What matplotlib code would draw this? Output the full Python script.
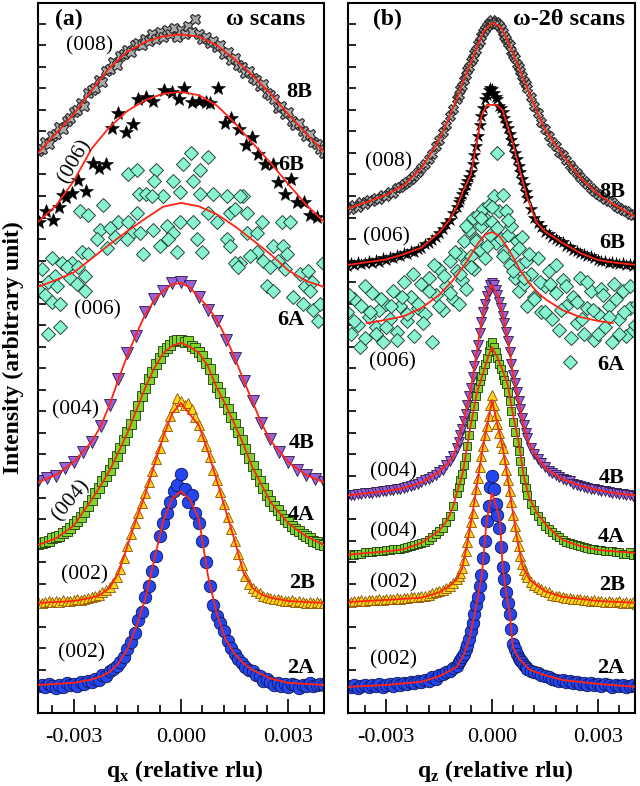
import numpy as np
import matplotlib
matplotlib.use("Agg")
import matplotlib.pyplot as plt
from matplotlib.ticker import FixedLocator, MultipleLocator, FormatStrFormatter

plt.rcParams['font.family'] = ['Liberation Serif', 'DejaVu Serif']
plt.rcParams['mathtext.fontset'] = 'custom'
plt.rcParams['mathtext.rm'] = 'Liberation Serif'
plt.rcParams['mathtext.bf'] = 'Liberation Serif:bold'
plt.rcParams['axes.unicode_minus'] = False

# q in units of 1e-3 rlu, intensity in arbitrary (offset) units

# ---------------- panel (a): omega scans ----------------
qa = np.linspace(-4.0, 4.0, 81)
qa_coarse = np.linspace(-4.0, 4.0, 33)

a_8B = [26.1, 26.2, 26.5, 26.4, 26.8, 26.9, 27.2, 27.1, 27.5, 27.6,
        27.9, 28.0, 28.3, 28.2, 28.8, 28.9, 29.0, 29.4, 29.3, 29.8,
        29.9, 30.2, 30.1, 30.5, 30.6, 30.8, 30.7, 31.0, 31.1, 31.0,
        31.3, 31.2, 31.5, 31.3, 31.6, 31.4, 31.7, 31.5, 31.8, 31.4,
        31.7,
        31.5, 31.9, 31.6, 32.2, 31.5, 31.3, 31.4, 31.1, 31.2, 30.9,
        31.0, 30.6, 30.7, 30.3, 30.4, 30.1, 30.0, 29.7, 29.8, 29.5,
        29.4, 29.1, 29.2, 28.8, 28.7, 28.5, 28.1, 28.2, 27.8, 27.9,
        27.5, 27.3, 27.4, 27.0, 26.8, 26.9, 26.5, 26.4, 26.2, 26.0]

a_6B_q = [-3.96, -3.78, -3.59, -3.42, -3.31, -3.22, -3.06, -2.89, -2.66, -2.47,
          -2.3, -2.1, -1.94, -1.77, -1.55, -1.35, -1.21, -0.99, -0.79, -0.48,
          -0.26, -0.06, 0.08, 0.3, 0.49, 0.69, 0.8, 1.03, 1.22, 1.39,
          1.61, 1.81, 1.98, 2.14, 2.34, 2.56, 2.7, 2.9, 3.09, 3.24,
          3.43, 3.6, 3.79]
a_6B = [22.8, 23.3, 22.9, 23.5, 24.05, 23.96, 24.14, 24.74, 24.23, 25.53,
        25.3, 25.49, 27.16, 27.86, 26.97, 27.35, 28.5, 28.6, 28.41, 28.92,
        28.83, 28.5, 29.02, 28.37, 28.41, 28.37, 28.32, 29.02, 27.39, 27.62,
        27.11, 26.37, 26.74, 25.95, 25.49, 25.49, 24.65, 24.09, 24.79, 23.72,
        23.72, 23.12, 23.03]

a_6A_q = [-1.49, -1.24, -0.71, -0.76, -0.23, 0.05, 0.27, 0.75, 0.52, 0.33,
          -1.18, -0.99, -0.51, -0.04, 0.89, 1.28, 1.73, -2.83, -2.61, -2.19,
          -1.77, -1.49, -1.24, -0.82, -2.27, -1.99, -1.85, -1.38, -1.15, -0.79,
          -0.4, -0.23, -0.04, 0.33, 0.75, 1.0, 1.36, 1.5, 1.84, 2.26,
          2.82, 3.05, -2.35, -2.07, -1.52, -1.07, -0.6, -0.37, -0.12, 0.44,
          0.58, 1.28, 1.36, 1.84, 2.12, 2.56, 2.84, 2.96, 2.12, 1.64,
          1.92, 2.28, 2.48, 2.7, 2.9, 3.32, 3.54, 3.96, -3.61, -3.33,
          -3.05, -2.78, -2.61, -3.2, -2.89, -3.9, -3.53, -3.11, -2.91, -2.69,
          -3.95, -3.73, -3.48, -3.81, -3.61, -3.39, -3.73, -3.39, 2.4, 2.56,
          3.12, 3.46, 3.65, 3.4, 3.68, 3.88, 3.82, 3.6, 1.5, 1.59,
          0.52, 1.64, -2.69]
a_6A = [25.0, 25.2, 25.2, 24.7, 24.7, 25.5, 26.0, 25.8, 25.2, 24.7,
        24.1, 24.1, 24.0, 24.2, 24.1, 24.0, 24.0, 23.3, 23.1, 23.6,
        22.8, 22.8, 23.2, 24.0, 22.4, 22.5, 22.1, 22.3, 22.3, 22.4,
        22.6, 22.3, 22.8, 22.8, 23.2, 22.8, 23.2, 23.4, 23.2, 22.8,
        22.8, 22.8, 22.0, 21.6, 22.0, 21.3, 21.7, 22.0, 21.4, 22.0,
        21.4, 22.0, 21.7, 22.3, 22.3, 21.7, 21.7, 21.3, 21.4, 20.9,
        21.2, 21.0, 20.7, 21.0, 20.6, 20.4, 20.5, 20.9, 21.1, 20.9,
        20.9, 21.4, 21.3, 20.7, 20.7, 20.6, 20.3, 20.2, 19.9, 19.6,
        19.6, 20.0, 19.8, 19.4, 19.1, 19.0, 17.6, 17.9, 19.8, 19.6,
        19.3, 19.8, 20.0, 19.0, 18.7, 19.0, 18.2, 19.6, 20.9, 20.7,
        24.1, 24.0, 20.3]

a_4B = [10.75, 10.9, 11.0, 11.35, 11.65, 12.1, 12.6, 13.3, 14.3, 15.5,
        16.7, 17.5, 18.6, 19.2, 19.6, 19.95, 20.0, 19.8, 19.3, 18.7,
        18.2, 17.3, 16.5, 15.4, 14.5, 13.45, 12.7, 12.1, 11.65, 11.3,
        11.05, 10.85, 10.7]

a_4A = [7.85, 7.9, 7.95, 8.0, 8.1, 8.15, 8.2, 8.35, 8.45, 8.6,
        8.75, 8.9, 9.1, 9.35, 9.6, 9.9, 10.2, 10.45, 10.75, 11.0,
        11.3, 11.6, 11.95, 12.3, 12.65, 13.05, 13.4, 13.85, 14.25, 14.7,
        15.1, 15.5, 15.85, 16.2, 16.5, 16.8, 16.95, 17.1, 17.25, 17.3,
        17.3,
        17.2, 17.25, 17.05, 16.95, 16.75, 16.55, 16.25, 15.95, 15.5, 15.15,
        14.85, 14.45, 14.1, 13.75, 13.4, 13.05, 12.65, 12.25, 11.85, 11.45,
        11.1, 10.75, 10.45, 10.1, 9.85, 9.6, 9.4, 9.2, 9.0, 8.85,
        8.7, 8.55, 8.45, 8.3, 8.2, 8.1, 8.0, 7.95, 7.85, 7.8]

a_2B = [5.15, 5.1, 5.15, 5.2, 5.15, 5.2, 5.15, 5.25, 5.2, 5.2,
        5.25, 5.3, 5.25, 5.3, 5.35, 5.4, 5.45, 5.5, 5.6, 5.7,
        5.85, 6.05, 6.3, 6.7, 7.2, 7.75, 8.3, 8.8, 9.3, 9.75,
        10.2, 10.7, 11.25, 11.8, 12.3, 12.85, 13.3, 13.8, 14.2, 14.6,
        14.5,
        14.3, 14.4, 14.1, 13.75, 13.35, 12.85, 12.4, 11.9, 11.3, 10.8,
        10.25, 9.7, 9.1, 8.55, 8.0, 7.4, 6.85, 6.35, 6.0, 5.8,
        5.65, 5.55, 5.45, 5.4, 5.35, 5.3, 5.3, 5.25, 5.2, 5.2,
        5.25, 5.15, 5.2, 5.15, 5.1, 5.15, 5.1, 5.15, 5.1, 5.1]

a_2A = [1.25, 1.3, 1.2, 1.35, 1.25, 1.15, 1.3, 1.2, 1.4, 1.3,
        1.35, 1.25, 1.45, 1.35, 1.5, 1.45, 1.6, 1.55, 1.75, 1.7,
        1.95, 2.05, 2.2, 2.35, 2.6, 2.95, 3.3, 3.7, 4.3, 4.7,
        5.4, 5.9, 6.6, 7.3, 8.2, 8.8, 9.3, 9.8, 10.3, 10.6,
        11.1,
        10.4, 9.8, 10.1, 9.3, 8.8, 8.0, 7.0, 5.9, 5.0, 4.5,
        4.2, 3.8, 3.35, 3.0, 2.75, 2.5, 2.3, 2.15, 2.0, 1.95,
        1.75, 1.7, 1.5, 1.6, 1.45, 1.3, 1.4, 1.25, 1.35, 1.2,
        1.35, 1.3, 1.15, 1.3, 1.25, 1.4, 1.25, 1.3, 1.35, 1.3]

# fitted curves (a)
fa_q17 = [-4, -3.5, -3, -2.5, -2, -1.5, -1, -0.5, 0, 0.5, 1, 1.5, 2, 2.5, 3, 3.5, 4]
fa_q27 = [-4, -3.5, -3, -2.5, -2.25, -2, -1.75, -1.5, -1.25, -1, -0.75, -0.5, -0.25, 0,
          0.25, 0.5, 0.75, 1, 1.25, 1.5, 1.75, 2, 2.25, 2.5, 3, 3.5, 4]
fa_8B = [26.0, 26.9, 27.8, 28.9, 29.95, 30.7, 31.15, 31.42, 31.5, 31.4, 31.0, 30.35,
         29.6, 28.75, 27.8, 26.9, 26.05]
fa_6B = [22.8, 23.55, 24.7, 26.2, 27.2, 27.95, 28.45, 28.75, 28.83, 28.68, 28.2, 27.4,
         26.46, 25.55, 24.55, 23.6, 22.8]
fa_6A = [19.78, 20.1, 20.45, 21.1, 21.75, 22.37, 22.95, 23.5, 23.68, 23.52, 23.15, 22.6,
         21.96, 21.3, 20.55, 20.05, 19.78]
fa_4B = [10.7, 11.05, 11.65, 12.6, 13.3, 14.3, 15.5, 16.6, 17.6, 18.5, 19.15, 19.6, 19.9,
         19.96, 19.75, 19.3, 18.85, 18.25, 17.45, 16.5, 15.45, 14.45, 13.45, 12.65, 11.65,
         11.05, 10.7]
fa_4A = [7.8, 8.1, 8.7, 9.9, 10.55, 11.25, 12.1, 13.0, 14.05, 15.1, 16.0, 16.7, 17.05,
         17.18, 17.0, 16.72, 16.1, 15.1, 14.3, 13.4, 12.45, 11.4, 10.6, 9.8, 8.8, 8.2, 7.8]
fa_2B = [5.11, 5.15, 5.2, 5.35, 5.5, 5.8, 6.5, 7.75, 9.0, 10.15, 11.5, 12.8, 13.9,
         14.39, 13.85, 13.35, 12.15, 10.8, 9.4, 8.0, 6.5, 5.8, 5.5, 5.35, 5.2, 5.15, 5.11]
fa_2A = [1.3, 1.35, 1.4, 1.55, 1.7, 1.9, 2.3, 2.95, 4.0, 5.3, 7.1, 8.9, 9.95,
         10.3, 9.9, 9.0, 6.4, 4.6, 3.4, 2.75, 2.3, 2.0, 1.8, 1.6, 1.4, 1.35, 1.3]

# ---------------- panel (b): omega-2theta scans ----------------
qb = np.concatenate([np.linspace(-4.1, -1.1, 31), np.linspace(-1.0, 1.0, 41),
                     np.linspace(1.1, 4.1, 31)])
qb_6A_extra = np.linspace(-4.05, 4.05, 55)

b_8B = [23.5, 23.4, 23.6, 23.5, 23.7, 23.65, 23.8, 23.75, 23.9, 23.85,
        24.05, 24.0, 24.2, 24.15, 24.35, 24.4, 24.55, 24.65, 24.8, 24.95,
        25.1, 25.3, 25.5, 25.7, 25.95, 26.3, 26.6, 26.95, 27.3, 27.7,
        28.05,
        28.5, 28.7, 28.95, 29.1, 29.4, 29.6, 29.85, 30.0, 30.25, 30.4,
        30.65, 30.8, 31.05, 31.2, 31.45, 31.6, 31.75, 31.9, 32.05, 32.0,
        32.15,
        32.05, 32.1, 32.0, 31.95, 31.8, 31.6, 31.45, 31.3, 31.1, 31.0,
        30.75, 30.55, 30.4, 30.15, 30.0, 29.8, 29.55, 29.35, 29.2, 29.0,
        28.6, 28.2, 27.85, 27.45, 27.1, 26.8, 26.5, 26.3, 26.05, 25.9,
        25.65, 25.45, 25.25, 25.05, 24.9, 24.7, 24.55, 24.35, 24.25, 24.1,
        24.0, 23.85, 23.75, 23.7, 23.55, 23.45, 23.35, 23.3, 23.15, 23.1,
        23.05]

b_6B = [20.75, 20.9, 20.8, 20.95, 20.85, 20.9, 21.0, 20.9, 21.05, 20.95,
        21.1, 21.05, 21.15, 21.1, 21.25, 21.2, 21.35, 21.3, 21.45, 21.4,
        21.55, 21.6, 21.75, 21.8, 21.95, 22.1, 22.3, 22.45, 22.7, 22.9,
        23.2,
        23.5, 23.7, 23.85, 24.1, 24.3, 24.5, 24.7, 24.9, 25.1, 25.5,
        25.9, 26.3, 26.8, 27.3, 27.7, 28.1, 28.5, 28.7, 28.9, 29.0,
        28.95,
        28.8, 28.6, 28.5, 28.2, 28.1, 27.9, 27.6, 27.4, 27.15, 26.9,
        26.6, 26.3, 26.0, 25.7, 25.4, 25.1, 24.8, 24.5, 24.2, 23.9,
        23.4, 23.0, 22.75, 22.55, 22.35, 22.25, 22.1, 22.0, 21.9, 21.85,
        21.7, 21.65, 21.5, 21.45, 21.35, 21.3, 21.2, 21.2, 21.1, 21.05,
        21.0, 21.0, 20.9, 20.95, 20.9, 20.85, 20.9, 20.8, 20.85, 20.75,
        20.8]

b_6A = [18.6, 17.6, 19.2, 18.0, 18.9, 17.4, 18.4, 19.5, 17.9, 18.7,
        17.2, 19.0, 18.3, 19.6, 17.7, 18.9, 20.0, 18.2, 19.3, 17.5,
        18.8, 19.9, 18.5, 20.2, 17.2, 19.4, 20.6, 18.7, 19.8, 21.0,
        19.2,
        20.5, 19.0, 21.3, 20.1, 21.9, 19.7, 20.9, 22.4, 21.2, 23.0,
        20.6, 22.0, 23.1, 21.5, 22.6, 23.4, 21.1, 22.9, 23.6, 22.2,
        22.8,
        24.0, 21.8, 26.0, 23.3, 22.0, 24.05, 21.4, 23.3, 22.2, 20.8,
        22.6, 21.3, 20.2, 21.9, 19.6, 20.8, 22.1, 19.9, 21.0, 18.9,
        20.4, 19.3, 21.1, 18.6, 19.8, 20.5, 18.3, 19.5, 17.8, 20.1,
        18.9, 16.3, 19.3, 18.1, 20.2, 17.6, 18.8, 19.6, 17.3, 18.5,
        19.7, 17.9, 18.9, 17.2, 19.2, 18.3, 19.6, 17.5, 18.8, 17.8,
        19.0]
b_6A_extra = [19.4, 18.2, 17.0, 19.8, 18.6, 17.6, 19.2, 17.9, 18.9, 17.3,
              19.3, 18.5, 20.4, 19.0, 18.1, 19.6, 20.8, 18.9, 20.3, 19.5,
              21.4, 20.4, 22.6, 20.7, 21.9, 23.0, 21.7, 23.5, 22.5, 21.2,
              22.9, 20.5, 21.6, 20.2, 21.3, 19.2, 20.0, 18.6, 19.9, 20.8,
              18.7, 19.8, 17.4, 19.1, 18.3, 20.0, 18.7, 17.6, 19.4, 18.4,
              19.9, 17.6, 18.6, 19.8, 18.0]

b_4B = [10.05, 10.1, 10.1, 10.15, 10.15, 10.2, 10.2, 10.2, 10.25, 10.25,
        10.3, 10.3, 10.35, 10.35, 10.4, 10.4, 10.45, 10.5, 10.55, 10.6,
        10.65, 10.7, 10.8, 10.85, 10.95, 11.05, 11.2, 11.3, 11.5, 11.7,
        11.95,
        12.3, 12.6, 12.9, 13.2, 13.55, 13.9, 14.3, 14.7, 15.1, 15.6,
        16.1, 16.6, 17.1, 17.65, 18.15, 18.6, 19.0, 19.35, 19.6, 19.85,
        19.95,
        19.85, 19.65, 19.4, 19.1, 18.8, 18.45, 18.1, 17.7, 17.25, 16.75,
        16.2, 15.7, 15.3, 14.9, 14.5, 14.1, 13.7, 13.35, 13.0, 12.75,
        12.3, 12.0, 11.8, 11.6, 11.4, 11.25, 11.15, 11.05, 10.95, 10.85,
        10.8, 10.75, 10.65, 10.6, 10.55, 10.5, 10.45, 10.4, 10.4, 10.35,
        10.3, 10.3, 10.25, 10.2, 10.2, 10.15, 10.15, 10.1, 10.1, 10.05,
        10.05]

b_4A = [7.35, 7.4, 7.35, 7.4, 7.4, 7.45, 7.45, 7.45, 7.5, 7.5,
        7.5, 7.55, 7.55, 7.6, 7.6, 7.6, 7.65, 7.7, 7.75, 7.8,
        7.85, 7.9, 7.95, 8.05, 8.15, 8.3, 8.45, 8.6, 8.85, 9.15,
        9.6,
        10.2, 10.5, 10.8, 11.1, 11.5, 11.9, 12.4, 12.9, 13.4, 13.8,
        14.25, 14.7, 15.1, 15.4, 15.65, 15.9, 16.2, 16.5, 16.8, 17.1,
        17.2,
        17.0, 16.75, 16.5, 16.2, 15.95, 15.7, 15.45, 15.25, 14.9, 14.5,
        14.0, 13.5, 13.05, 12.6, 12.15, 11.7, 11.25, 10.85, 10.45, 10.1,
        9.7, 9.4, 9.15, 8.9, 8.7, 8.55, 8.4, 8.25, 8.15, 8.05,
        7.95, 7.9, 7.85, 7.8, 7.75, 7.7, 7.65, 7.6, 7.6, 7.55,
        7.55, 7.5, 7.5, 7.5, 7.45, 7.45, 7.4, 7.4, 7.45, 7.35,
        7.4]

b_2B = [5.2, 5.15, 5.2, 5.2, 5.25, 5.2, 5.25, 5.25, 5.25, 5.3,
        5.25, 5.3, 5.3, 5.3, 5.35, 5.3, 5.35, 5.35, 5.4, 5.4,
        5.4, 5.45, 5.45, 5.5, 5.55, 5.6, 5.65, 5.7, 5.8, 5.9,
        6.05,
        6.2, 6.35, 6.5, 6.75, 7.1, 7.5, 7.95, 8.4, 8.85, 9.3,
        9.85, 10.4, 10.9, 11.4, 11.95, 12.4, 12.9, 13.3, 13.8, 14.3,
        14.75,
        14.3, 13.85, 13.4, 13.0, 12.6, 12.3, 11.8, 11.3, 10.8, 10.3,
        9.8, 9.2, 8.7, 8.2, 7.75, 7.3, 6.9, 6.65, 6.45, 6.3,
        6.1, 5.95, 5.85, 5.75, 5.65, 5.6, 5.5, 5.45, 5.45, 5.4,
        5.35, 5.35, 5.3, 5.3, 5.3, 5.25, 5.25, 5.2, 5.25, 5.2,
        5.2, 5.15, 5.2, 5.15, 5.15, 5.2, 5.1, 5.15, 5.1, 5.15,
        5.05]

b_2A = [1.25, 1.2, 1.3, 1.15, 1.25, 1.3, 1.2, 1.3, 1.25, 1.35,
        1.2, 1.3, 1.35, 1.25, 1.4, 1.3, 1.4, 1.35, 1.45, 1.4,
        1.5, 1.45, 1.55, 1.5, 1.65, 1.6, 1.75, 1.8, 1.9, 1.95,
        2.1,
        2.2, 2.35, 2.45, 2.6, 2.75, 2.95, 3.15, 3.45, 3.8, 4.2,
        4.6, 5.0, 5.4, 5.9, 6.4, 7.2, 8.0, 8.9, 9.6, 10.5,
        11.0,
        10.4, 9.7, 9.2, 8.6, 7.7, 6.8, 6.2, 5.6, 5.1, 4.6,
        3.9, 3.2, 2.95, 2.75, 2.55, 2.45, 2.35, 2.25, 2.15, 2.05,
        1.95, 1.9, 1.85, 1.75, 1.7, 1.65, 1.6, 1.55, 1.5, 1.55,
        1.45, 1.5, 1.4, 1.45, 1.35, 1.4, 1.3, 1.4, 1.3, 1.35,
        1.25, 1.35, 1.3, 1.2, 1.3, 1.25, 1.3, 1.2, 1.25, 1.3,
        1.2]

# fitted curves (b)
fb_8B_q = [-4.1, -3.5, -3, -2.5, -2, -1.5, -1.25, -1, -0.75, -0.5, -0.25, 0, 0.25, 0.5,
           0.75, 1, 1.25, 1.5, 2, 2.5, 3, 3.5, 4.1]
fb_8B = [23.4, 23.75, 24.05, 24.5, 25.3, 26.6, 27.5, 28.5, 29.6, 30.6, 31.6, 32.05, 31.85,
         31.0, 30.0, 29.0, 28.0, 27.1, 25.9, 24.85, 24.1, 23.55, 23.0]
fb_6B_q = [-4.1, -3, -2.5, -2, -1.5, -1.2, -1, -0.8, -0.6, -0.45, -0.3, -0.15, 0.13, 0.3,
           0.45, 0.6, 0.8, 1.0, 1.25, 1.5, 2, 2.5, 3, 3.5, 4.1]
fb_6B = [20.8, 21.05, 21.3, 21.6, 22.3, 22.9, 23.5, 24.3, 25.0, 26.3, 27.7, 28.23, 28.23,
         27.99, 27.2, 26.4, 25.1, 23.9, 22.8, 22.35, 21.82, 21.35, 21.03, 20.9, 20.8]
fb_6A_q = [-3.55, -3, -2.5, -2, -1.5, -1.1, -0.8, -0.6, -0.4, -0.2, 0, 0.2, 0.4, 0.6, 0.8,
           1.05, 1.3, 1.55, 2, 2.5, 3, 3.42]
fb_6A = [18.1, 18.25, 18.42, 18.8, 19.4, 20.1, 20.75, 21.25, 21.8, 22.2, 22.33, 22.15,
         21.7, 21.15, 20.55, 19.96, 19.5, 19.17, 18.7, 18.38, 18.2, 18.1]
fb_4B_q = [-4.1, -3, -2.5, -2, -1.5, -1.25, -1.1, -0.95, -0.8, -0.6, -0.45, -0.3, -0.15, 0,
           0.15, 0.3, 0.45, 0.6, 0.75, 0.9, 1.05, 1.3, 1.6, 2, 2.5, 3, 3.5, 4.1]
fb_4B = [10.1, 10.3, 10.45, 10.7, 11.2, 11.6, 11.9, 12.7, 13.6, 15.05, 16.6, 18.2, 19.3,
         19.87, 19.4, 18.5, 17.3, 15.7, 14.5, 13.3, 12.5, 11.8, 11.25, 10.85, 10.55, 10.35,
         10.2, 10.1]
fb_4A_q = [-4.1, -3, -2.5, -2, -1.5, -1.25, -1.1, -1.0, -0.83, -0.63, -0.43, -0.25, -0.1, 0,
           0.15, 0.3, 0.45, 0.6, 0.75, 0.9, 1.05, 1.27, 1.6, 2, 2.5, 3, 3.5, 4.1]
fb_4A = [7.35, 7.5, 7.6, 7.9, 8.45, 9.0, 9.6, 10.2, 11.14, 13.14, 14.86, 15.8, 16.6, 16.99,
         16.5, 15.9, 15.2, 13.8, 12.6, 11.0, 10.0, 9.29, 8.6, 8.03, 7.75, 7.57, 7.5, 7.43]
fb_2B_q = [-4.1, -3, -2, -1.5, -1.2, -1, -0.85, -0.7, -0.55, -0.4, -0.26, -0.12, 0, 0.15,
           0.3, 0.45, 0.59, 0.73, 0.87, 1.07, 1.5, 2, 3, 4.1]
fb_2B = [5.15, 5.25, 5.35, 5.6, 5.9, 6.2, 6.7, 7.9, 9.29, 10.9, 12.35, 13.5, 14.53, 13.4,
         12.35, 10.8, 9.29, 7.9, 6.78, 6.17, 5.65, 5.39, 5.2, 5.11]
fb_2A_q = [-4.1, -3, -2, -1.5, -1, -0.8, -0.63, -0.43, -0.29, -0.15, 0, 0.12, 0.22, 0.3,
           0.4, 0.5, 0.59, 0.75, 1.07, 1.5, 2, 3, 4.1]
fb_2A = [1.21, 1.3, 1.45, 1.7, 2.14, 2.7, 3.53, 5.11, 6.4, 8.96, 10.21, 9.6, 8.96, 6.78,
         5.6, 4.64, 3.06, 2.55, 2.0, 1.75, 1.53, 1.35, 1.21]

# labels
samples = ['8B', '6B', '6A', '4B', '4A', '2B', '2A']
reflections = ['(008)', '(006)', '(006)', '(004)', '(004)', '(002)', '(002)']

styles = {
    '8B': dict(marker='X', mfc='#a8a8a8', mec='#262626', mew=0.8),
    '6B': dict(marker='*', mfc='black', mec='black', mew=0.4),
    '6A': dict(marker='D', mfc='#88f4d2', mec='#24463c', mew=0.7),
    '4B': dict(marker='v', mfc='#9a60d8', mec='#2a1846', mew=0.6),
    '4A': dict(marker='s', mfc='#7ed62a', mec='#1c380a', mew=0.6),
    '2B': dict(marker='^', mfc='#ffd31a', mec='#8a5200', mew=0.6),
    '2A': dict(marker='o', mfc='#2446ee', mec='#0e1650', mew=0.6),
}
size_a = {'8B': 7.5, '6B': 10, '6A': 7, '4B': 8.5, '4A': 6.5, '2B': 7, '2A': 9}
size_b = {'8B': 7, '6B': 9, '6A': 7, '4B': 7, '4A': 6, '2B': 6.5, '2A': 9}

fit_color = '#ff2414'

fig = plt.figure(figsize=(6.4, 7.86), dpi=100)
ax_a = fig.add_axes([0.0594, 0.0929, 0.4469, 0.9033])
ax_b = fig.add_axes([0.5438, 0.0929, 0.4484, 0.9033])

scat_a = {'8B': (qa, a_8B), '6B': (a_6B_q, a_6B), '6A': (a_6A_q, a_6A),
          '4B': (qa_coarse, a_4B), '4A': (qa, a_4A), '2B': (qa, a_2B), '2A': (qa, a_2A)}
fit_a = {'8B': (fa_q17, fa_8B), '6B': (fa_q17, fa_6B), '6A': (fa_q17, fa_6A),
         '4B': (fa_q27, fa_4B), '4A': (fa_q27, fa_4A), '2B': (fa_q27, fa_2B),
         '2A': (fa_q27, fa_2A)}
scat_b = {'8B': (qb, b_8B), '6B': (qb, b_6B),
          '6A': (np.concatenate([qb, qb_6A_extra]), b_6A + b_6A_extra),
          '4B': (qb, b_4B), '4A': (qb, b_4A), '2B': (qb, b_2B), '2A': (qb, b_2A)}
fit_b = {'8B': (fb_8B_q, fb_8B), '6B': (fb_6B_q, fb_6B), '6A': (fb_6A_q, fb_6A),
         '4B': (fb_4B_q, fb_4B), '4A': (fb_4A_q, fb_4A), '2B': (fb_2B_q, fb_2B),
         '2A': (fb_2A_q, fb_2A)}

for ax, scat, fit, sizes in [(ax_a, scat_a, fit_a, size_a), (ax_b, scat_b, fit_b, size_b)]:
    for s in samples:
        q, y = scat[s]
        ax.plot(np.asarray(q) * 1e-3, y, ls='none', ms=sizes[s], zorder=2, **styles[s])
        fq, fy = fit[s]
        ax.plot(np.asarray(fq) * 1e-3, fy, color=fit_color, lw=1.3, zorder=3)

# annotation positions (q in 1e-3, intensity units)
ann_a = [(-2.55, 30.97, 0), (-2.97, 25.6, 60), (-2.35, 18.7, 0), (-2.94, 14.07, 0),
         (-3.08, 9.9, 50), (-2.69, 6.4, 0), (-2.77, 2.79, 0)]
tag_a = [(3.68, 28.83), (3.46, 25.44), (3.46, 18.25), (3.74, 12.53), (3.74, 9.19),
         (3.74, 6.04), (3.74, 2.09)]
ann_b = [(-2.94, 25.58, 0), (-2.98, 22.1, 0), (-2.83, 16.3, 0), (-2.8, 11.19, 0),
         (-2.8, 8.4, 0), (-2.8, 6.04, 0), (-2.8, 2.46, 0)]
tag_b = [(3.76, 24.19), (3.76, 21.82), (3.76, 16.16), (3.76, 10.91), (3.76, 8.17),
         (3.76, 5.94), (3.76, 2.09)]

for ax, ann, tag in [(ax_a, ann_a, tag_a), (ax_b, ann_b, tag_b)]:
    for (x, y, rot), txt in zip(ann, reflections):
        ax.text(x * 1e-3, y, txt, fontsize=15.5, rotation=rot, ha='center', va='center',
                rotation_mode='anchor', zorder=5)
    for (x, y), txt in zip(tag, samples):
        ax.text(x * 1e-3, y, txt, fontsize=16, fontweight='bold', ha='right',
                va='center', zorder=5)

ax_a.text(0.059, 0.969, '(a)', transform=ax_a.transAxes, fontsize=17,
          fontweight='bold', ha='left', va='baseline')
ax_a.text(0.934, 0.969, 'ω scans', transform=ax_a.transAxes, fontsize=17.5,
          fontweight='bold', ha='right', va='baseline')
ax_b.text(0.087, 0.969, '(b)', transform=ax_b.transAxes, fontsize=17,
          fontweight='bold', ha='left', va='baseline')
ax_b.text(0.965, 0.969, 'ω-2θ scans', transform=ax_b.transAxes, fontsize=17.5,
          fontweight='bold', ha='right', va='baseline')

ax_a.set_xlim(-4.0e-3, 4.0e-3)
ax_b.set_xlim(-4.08e-3, 4.05e-3)
for ax in (ax_a, ax_b):
    ax.set_ylim(0, 32.96)
    ax.yaxis.set_major_locator(MultipleLocator(1))
    ax.tick_params(axis='y', direction='in', length=6, width=1.2, left=True,
                   right=False, labelleft=False)
    ax.xaxis.set_major_locator(FixedLocator([-0.003, 0.0, 0.003]))
    ax.xaxis.set_minor_locator(MultipleLocator(0.0006))
    ax.xaxis.set_major_formatter(FormatStrFormatter('%.3f'))
    ax.tick_params(axis='x', which='major', direction='in', length=10, width=1.2,
                   top=False, labelsize=16, pad=11)
    ax.tick_params(axis='x', which='minor', direction='in', length=6, width=1.2, top=False)
    for sp in ax.spines.values():
        sp.set_linewidth(1.5)

fig.text(0.021, 0.558, 'Intensity (arbitrary unit)', rotation=90, fontsize=17,
         fontweight='bold', ha='center', va='center')
fig.text(0.288, 0.0115, r'$\mathbf{q}_\mathbf{x}$ (relative rlu)', fontsize=17,
         fontweight='bold', ha='center', va='baseline')
fig.text(0.773, 0.0115, r'$\mathbf{q}_\mathbf{z}$ (relative rlu)', fontsize=17,
         fontweight='bold', ha='center', va='baseline')

fig.savefig('out.png', dpi=100)
